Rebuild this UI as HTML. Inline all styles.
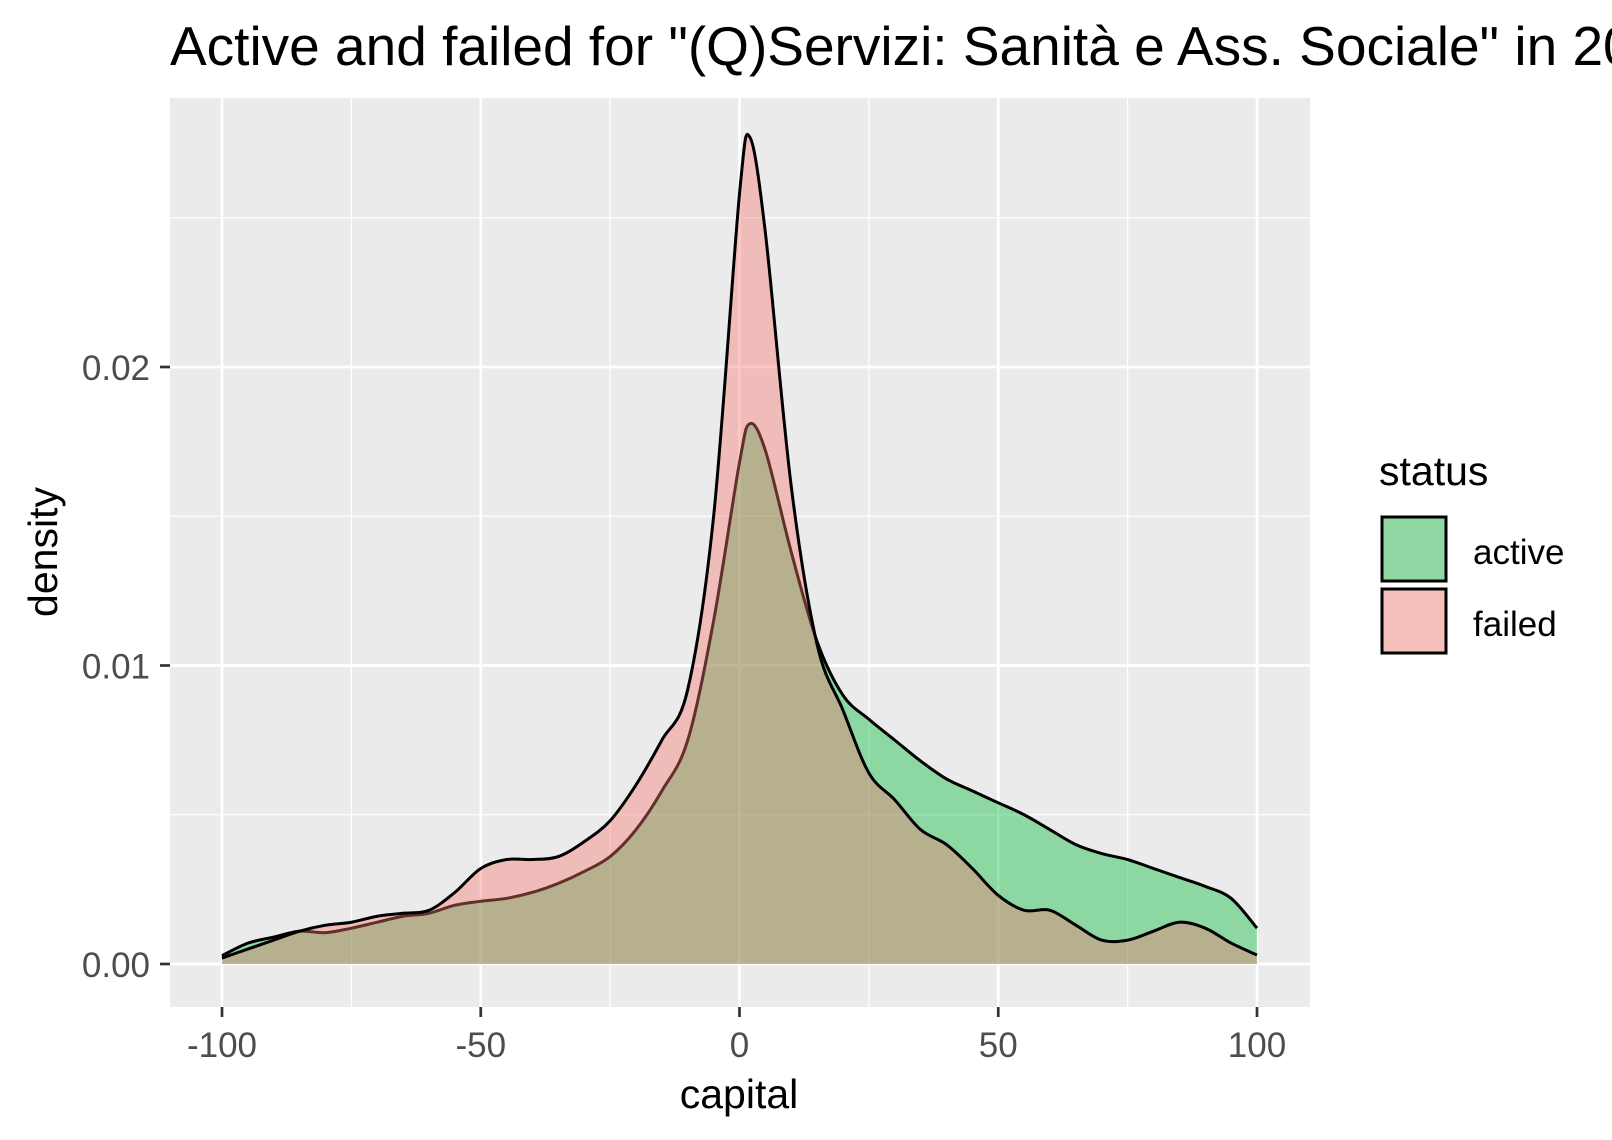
<!DOCTYPE html>
<html><head><meta charset="utf-8"><style>html,body{margin:0;padding:0;background:#fff;}svg{display:block;font-family:"Liberation Sans",Arial,sans-serif;}</style></head>
<body>
<svg id="chart" width="1612" height="1140" viewBox="0 0 1612 1140">
<text x="170" y="65" font-size="55" fill="#000">Active and failed for "(Q)Servizi: Sanità e Ass. Sociale" in 2019</text>
<rect x="170" y="98" width="1140" height="909" fill="#EBEBEB"/>
<g id="grid"></g>
<g id="series"></g>
<g id="axes"></g>
<text x="739" y="1108" font-size="41" text-anchor="middle" fill="#000">capital</text>
<text transform="translate(57,552) rotate(-90)" font-size="41" text-anchor="middle" fill="#000">density</text>
<g>
<text x="1379" y="485" font-size="41" fill="#000">status</text>
<rect x="1382" y="517" width="64" height="64" fill="#8fd7a3" stroke="#000" stroke-width="3"/>
<text x="1473" y="564" font-size="35" fill="#000">active</text>
<rect x="1382" y="589" width="64" height="64" fill="#f4c0bb" stroke="#000" stroke-width="3"/>
<text x="1473" y="636" font-size="35" fill="#000">failed</text>
</g>
</svg>
<script>
const xs = [-100,-95,-90,-85,-80,-75,-70,-65,-60,-55,-50,-45,-40,-35,-30,-25,-20,-15,-10,-5,0,2,5,10,15,20,25,30,35,40,45,50,55,60,65,70,75,80,85,90,95,100];
const activeDensity = [0.00028,0.0007,0.0009,0.0011,0.00105,0.0012,0.0014,0.0016,0.0017,0.00197,0.0021,0.0022,0.0024,0.0027,0.0031,0.0036,0.0045,0.0058,0.0075,0.0115,0.0168,0.0181,0.0172,0.0138,0.0108,0.009,0.0082,0.0075,0.0068,0.0062,0.0058,0.0054,0.005,0.0045,0.004,0.0037,0.0035,0.0032,0.0029,0.0026,0.0022,0.0012];
const failedDensity = [0.0002,0.0005,0.0008,0.0011,0.0013,0.0014,0.0016,0.0017,0.0018,0.0024,0.0032,0.0035,0.0035,0.0036,0.0041,0.0048,0.006,0.0075,0.0092,0.015,0.0258,0.0277,0.0245,0.016,0.0107,0.0085,0.0064,0.0055,0.0045,0.004,0.0032,0.0023,0.0018,0.0018,0.0013,0.0008,0.0008,0.0011,0.0014,0.0012,0.0007,0.0003];
const xTicks = [-100,-50,0,50,100];
const xTickLabels = ["-100","-50","0","50","100"];
const xMinor = [-75,-25,25,75];
const yTicks = [0,0.01,0.02];
const yTickLabels = ["0.00","0.01","0.02"];
const yMinor = [0.005,0.015,0.025];

const NS="http://www.w3.org/2000/svg";
const X = v => 739.5 + v*5.175;
const Y = v => 964 - v*29850;
const PL=170, PR=1310, PT=98, PB=1007;
function mk(tag, attrs, parent){const e=document.createElementNS(NS,tag);for(const k in attrs)e.setAttribute(k,attrs[k]);parent.appendChild(e);return e;}
const grid=document.getElementById('grid'), axes=document.getElementById('axes'), series=document.getElementById('series');
xMinor.forEach(v=>{const l=mk('line',{x1:X(v),x2:X(v),y1:PT,y2:PB,stroke:'#fff','stroke-width':1.3},grid);

});
yMinor.forEach(v=>{const l=mk('line',{x1:PL,x2:PR,y1:Y(v),y2:Y(v),stroke:'#fff','stroke-width':1.3},grid);

});
xTicks.forEach((v,i)=>{const l=mk('line',{x1:X(v),x2:X(v),y1:PT,y2:PB,stroke:'#fff','stroke-width':2.7},grid);


const t=mk('line',{x1:X(v),x2:X(v),y1:PB,y2:PB+10,stroke:'#333','stroke-width':2.7},axes);


const tx=mk('text',{x:X(v),y:1057,'font-size':35,'text-anchor':'middle',fill:'#4D4D4D'},axes);tx.textContent=xTickLabels[i];

});
yTicks.forEach((v,i)=>{const l=mk('line',{x1:PL,x2:PR,y1:Y(v),y2:Y(v),stroke:'#fff','stroke-width':2.7},grid);


const t=mk('line',{x1:PL-10,x2:PL,y1:Y(v),y2:Y(v),stroke:'#333','stroke-width':2.7},axes);


const tx=mk('text',{x:150,y:Y(v)+13,'font-size':35,'text-anchor':'end',fill:'#4D4D4D'},axes);tx.textContent=yTickLabels[i];

});
function smooth(pts){let d=`M${pts[0][0]},${pts[0][1]}`;for(let i=0;i<pts.length-1;i++){const p0=pts[i-1]||pts[i],p1=pts[i],p2=pts[i+1],p3=pts[i+2]||p2;
const c1=[p1[0]+(p2[0]-p0[0])/6,p1[1]+(p2[1]-p0[1])/6],c2=[p2[0]-(p3[0]-p1[0])/6,p2[1]-(p3[1]-p1[1])/6];
d+=` C${c1[0]},${c1[1]} ${c2[0]},${c2[1]} ${p2[0]},${p2[1]}`;}return d;}
function draw(vals,fill,name){const pts=xs.map((x,i)=>[X(x),Y(vals[i])]);const line=smooth(pts);
const a=mk('path',{d:line+` L${X(xs[xs.length-1])},${Y(0)} L${X(xs[0])},${Y(0)} Z`,fill:fill,'fill-opacity':0.4,stroke:'none'},series);


const l=mk('path',{d:line,fill:'none',stroke:'#000','stroke-width':3,'stroke-linejoin':'round'},series);

}
draw(activeDensity,'#00BA38','active-density');
draw(failedDensity,'#F8766D','failed-density');
</script>
</body></html>
